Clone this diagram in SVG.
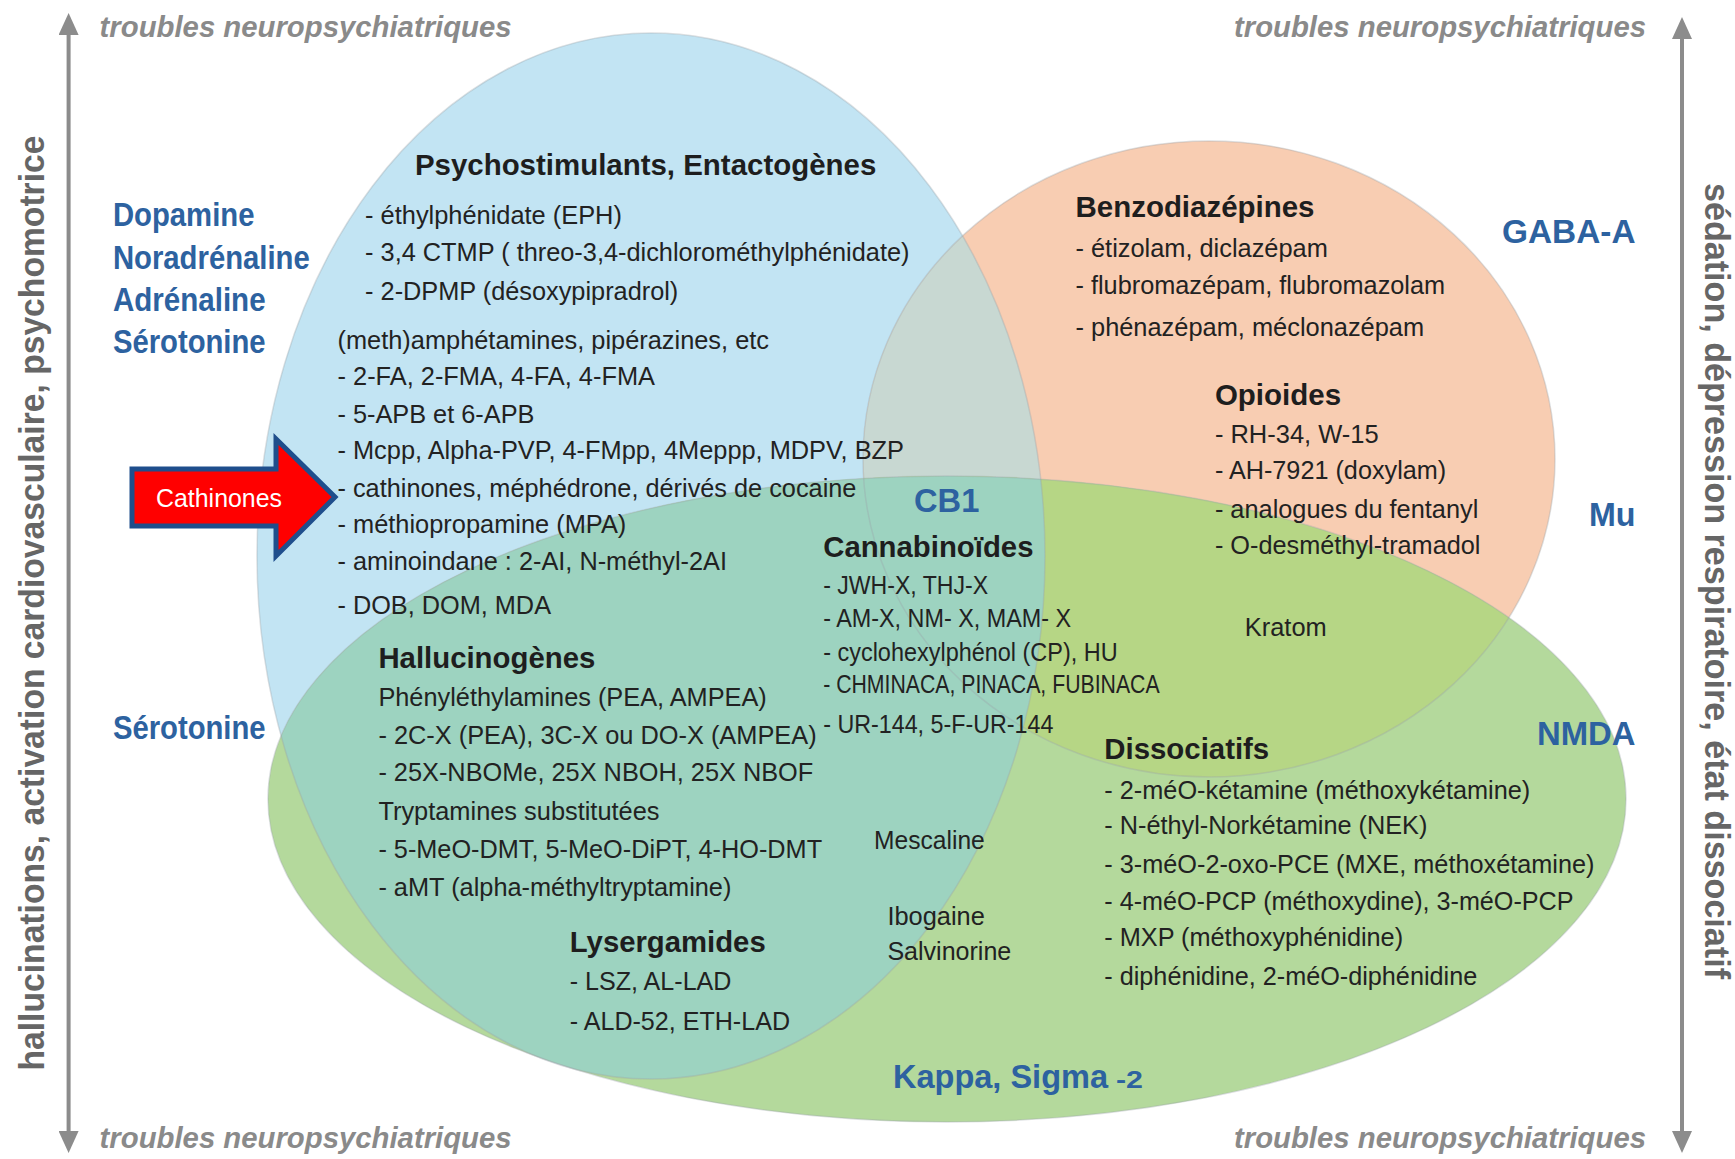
<svg xmlns="http://www.w3.org/2000/svg" width="1735" height="1159" viewBox="0 0 1735 1159">
<defs>
<style>
text{font-family:"Liberation Sans",Arial,sans-serif}
.rc{font-size:34px;font-weight:bold;fill:#2d62a0}
.hd{font-size:30px;font-weight:bold;fill:#1e1e1e}
.it{font-size:26px;fill:#222}
.tr{font-size:30px;font-weight:bold;font-style:italic;fill:#8a8a8a}
.ax{font-size:35px;font-weight:bold;fill:#666}
.edge{fill:none;stroke:#9aa4a8;stroke-opacity:0.35;stroke-width:1.5}
</style>
<ellipse id="eb" cx="651" cy="556" rx="394" ry="523"/>
<ellipse id="eo" cx="1209" cy="459" rx="346" ry="318"/>
<ellipse id="eg" cx="947" cy="799" rx="679" ry="323"/>
<clipPath id="cb"><use href="#eb"/></clipPath>
<clipPath id="co"><use href="#eo"/></clipPath>
<marker id="ah" markerUnits="userSpaceOnUse" markerWidth="22" markerHeight="20" refX="0" refY="10" orient="auto-start-reverse">
<path d="M0,0 L22,10 L0,20 z" fill="#8c8c8c"/>
</marker>
</defs>
<rect width="1735" height="1159" fill="#ffffff"/>

<g id="sets">
<use href="#eb" fill="#c2e4f3"/>
<use href="#eo" fill="#f8cdb2"/>
<use href="#eo" fill="#c8d8d2" clip-path="url(#cb)"/>
<use href="#eg" fill="#b4d99c"/>
<use href="#eg" fill="#b6d685" clip-path="url(#co)"/>
<use href="#eg" fill="#9dd3c0" clip-path="url(#cb)"/>
<use href="#eb" class="edge"/>
<use href="#eo" class="edge"/>
<use href="#eg" class="edge"/>
</g>

<g id="connectors">
<line x1="68.6" y1="35" x2="68.6" y2="1131" stroke="#8c8c8c" stroke-width="4" marker-start="url(#ah)" marker-end="url(#ah)"/>
<line x1="1682" y1="39" x2="1682" y2="1131" stroke="#8c8c8c" stroke-width="4" marker-start="url(#ah)" marker-end="url(#ah)"/>
</g>

<g id="axis-labels">
<text class="tr" x="99.6" y="37" textLength="412" lengthAdjust="spacingAndGlyphs">troubles neuropsychiatriques</text>
<text class="tr" x="1234" y="37" textLength="412" lengthAdjust="spacingAndGlyphs">troubles neuropsychiatriques</text>
<text class="tr" x="99.6" y="1148" textLength="412" lengthAdjust="spacingAndGlyphs">troubles neuropsychiatriques</text>
<text class="tr" x="1234" y="1148" textLength="412" lengthAdjust="spacingAndGlyphs">troubles neuropsychiatriques</text>
<text class="ax" transform="translate(44,603) rotate(-90)" text-anchor="middle" textLength="935" lengthAdjust="spacingAndGlyphs">hallucinations, activation cardiovasculaire, psychomotrice</text>
<text class="ax" transform="translate(1705,581) rotate(90)" text-anchor="middle" textLength="796" lengthAdjust="spacingAndGlyphs">sédation, dépression respiratoire, état dissociatif</text>
</g>

<g id="receptors">
<text class="rc" x="112.9" y="226" textLength="141.6" lengthAdjust="spacingAndGlyphs">Dopamine</text>
<text class="rc" x="112.9" y="268.9" textLength="196.9" lengthAdjust="spacingAndGlyphs">Noradrénaline</text>
<text class="rc" x="112.9" y="311" textLength="152.7" lengthAdjust="spacingAndGlyphs">Adrénaline</text>
<text class="rc" x="112.9" y="353" textLength="152.7" lengthAdjust="spacingAndGlyphs">Sérotonine</text>
<text class="rc" x="112.9" y="739" textLength="152.7" lengthAdjust="spacingAndGlyphs">Sérotonine</text>
<text class="rc" x="1502" y="243.4" textLength="133.5" lengthAdjust="spacingAndGlyphs">GABA-A</text>
<text class="rc" x="1589" y="525.6" textLength="46.5" lengthAdjust="spacingAndGlyphs">Mu</text>
<text class="rc" x="1537" y="745" textLength="98.5" lengthAdjust="spacingAndGlyphs">NMDA</text>
<text class="rc" x="914" y="512.3" textLength="65.3" lengthAdjust="spacingAndGlyphs">CB1</text>
<text class="rc" x="893" y="1088" textLength="215" lengthAdjust="spacingAndGlyphs">Kappa, Sigma</text>
<text class="rc" x="1116" y="1088" style="font-size:23px" textLength="27" lengthAdjust="spacingAndGlyphs">-2</text>
</g>

<g id="psychostimulants">
<text class="hd" x="414.9" y="174.5" textLength="461.4" lengthAdjust="spacingAndGlyphs">Psychostimulants, Entactogènes</text>
<text class="it" x="365.1" y="224" textLength="256.8" lengthAdjust="spacingAndGlyphs">- éthylphénidate (EPH)</text>
<text class="it" x="365.1" y="261" textLength="544.4" lengthAdjust="spacingAndGlyphs">- 3,4 CTMP ( threo-3,4-dichlorométhylphénidate)</text>
<text class="it" x="365.1" y="299.5" textLength="313.2" lengthAdjust="spacingAndGlyphs">- 2-DPMP (désoxypipradrol)</text>
<text class="it" x="337.5" y="348.5" textLength="431.5" lengthAdjust="spacingAndGlyphs">(meth)amphétamines, pipérazines, etc</text>
<text class="it" x="337.5" y="385.1" textLength="317.5" lengthAdjust="spacingAndGlyphs">- 2-FA, 2-FMA, 4-FA, 4-FMA</text>
<text class="it" x="337.5" y="422.7" textLength="196.9" lengthAdjust="spacingAndGlyphs">- 5-APB et 6-APB</text>
<text class="it" x="337.5" y="459.2" textLength="566.5" lengthAdjust="spacingAndGlyphs">- Mcpp, Alpha-PVP, 4-FMpp, 4Meppp, MDPV, BZP</text>
<text class="it" x="337.5" y="496.8" textLength="518.9" lengthAdjust="spacingAndGlyphs">- cathinones, méphédrone, dérivés de cocaine</text>
<text class="it" x="337.5" y="533.3" textLength="288.8" lengthAdjust="spacingAndGlyphs">- méthiopropamine (MPA)</text>
<text class="it" x="337.5" y="569.8" textLength="389.5" lengthAdjust="spacingAndGlyphs">- aminoindane : 2-AI, N-méthyl-2AI</text>
<text class="it" x="337.5" y="614.1" textLength="213.5" lengthAdjust="spacingAndGlyphs">- DOB, DOM, MDA</text>
</g>

<g id="benzodiazepines">
<text class="hd" x="1075.5" y="216.9" textLength="239" lengthAdjust="spacingAndGlyphs">Benzodiazépines</text>
<text class="it" x="1075.5" y="256.7" textLength="252.3" lengthAdjust="spacingAndGlyphs">- étizolam, diclazépam</text>
<text class="it" x="1075.5" y="294.3" textLength="369.6" lengthAdjust="spacingAndGlyphs">- flubromazépam, flubromazolam</text>
<text class="it" x="1075.5" y="336.4" textLength="348.6" lengthAdjust="spacingAndGlyphs">- phénazépam, méclonazépam</text>
</g>

<g id="opioides">
<text class="hd" x="1214.9" y="405" textLength="126.2" lengthAdjust="spacingAndGlyphs">Opioides</text>
<text class="it" x="1214.9" y="442.6" textLength="163.8" lengthAdjust="spacingAndGlyphs">- RH-34, W-15</text>
<text class="it" x="1214.9" y="479.1" textLength="231.3" lengthAdjust="spacingAndGlyphs">- AH-7921 (doxylam)</text>
<text class="it" x="1214.9" y="517.8" textLength="263.4" lengthAdjust="spacingAndGlyphs">- analogues du fentanyl</text>
<text class="it" x="1214.9" y="554.4" textLength="265.6" lengthAdjust="spacingAndGlyphs">- O-desméthyl-tramadol</text>
<text class="it" x="1244.8" y="636.2" textLength="81.9" lengthAdjust="spacingAndGlyphs">Kratom</text>
</g>

<g id="cannabinoides">
<text class="hd" x="823.2" y="556.6" textLength="210.3" lengthAdjust="spacingAndGlyphs">Cannabinoïdes</text>
<text class="it" x="823.2" y="594.2" textLength="164.9" lengthAdjust="spacingAndGlyphs">- JWH-X, THJ-X</text>
<text class="it" x="823.2" y="627.4" textLength="247.9" lengthAdjust="spacingAndGlyphs">- AM-X, NM- X, MAM- X</text>
<text class="it" x="823.2" y="660.6" textLength="294.4" lengthAdjust="spacingAndGlyphs">- cyclohexylphénol (CP), HU</text>
<text class="it" x="823.2" y="692.7" textLength="336.4" lengthAdjust="spacingAndGlyphs">- CHMINACA, PINACA, FUBINACA</text>
<text class="it" x="823.2" y="732.5" textLength="230.2" lengthAdjust="spacingAndGlyphs">- UR-144, 5-F-UR-144</text>
</g>

<g id="hallucinogenes">
<text class="hd" x="378.4" y="668.3" textLength="216.9" lengthAdjust="spacingAndGlyphs">Hallucinogènes</text>
<text class="it" x="378.4" y="705.9" textLength="388.4" lengthAdjust="spacingAndGlyphs">Phényléthylamines (PEA, AMPEA)</text>
<text class="it" x="378.4" y="743.6" textLength="438.2" lengthAdjust="spacingAndGlyphs">- 2C-X (PEA), 3C-X ou DO-X (AMPEA)</text>
<text class="it" x="378.4" y="781.2" textLength="434.9" lengthAdjust="spacingAndGlyphs">- 25X-NBOMe, 25X NBOH, 25X NBOF</text>
<text class="it" x="378.4" y="819.9" textLength="281.1" lengthAdjust="spacingAndGlyphs">Tryptamines substitutées</text>
<text class="it" x="378.4" y="857.5" textLength="443.7" lengthAdjust="spacingAndGlyphs">- 5-MeO-DMT, 5-MeO-DiPT, 4-HO-DMT</text>
<text class="it" x="378.4" y="896.3" textLength="353" lengthAdjust="spacingAndGlyphs">- aMT (alpha-méthyltryptamine)</text>
</g>

<g id="lysergamides">
<text class="hd" x="569.8" y="951.6" textLength="195.9" lengthAdjust="spacingAndGlyphs">Lysergamides</text>
<text class="it" x="569.8" y="990.3" textLength="161.6" lengthAdjust="spacingAndGlyphs">- LSZ, AL-LAD</text>
<text class="it" x="569.8" y="1030.2" textLength="220.2" lengthAdjust="spacingAndGlyphs">- ALD-52, ETH-LAD</text>
</g>

<g id="plantes">
<text class="it" x="874.1" y="848.7" textLength="110.7" lengthAdjust="spacingAndGlyphs">Mescaline</text>
<text class="it" x="887.4" y="925" textLength="97.4" lengthAdjust="spacingAndGlyphs">Ibogaine</text>
<text class="it" x="887.4" y="960.4" textLength="123.9" lengthAdjust="spacingAndGlyphs">Salvinorine</text>
</g>

<g id="dissociatifs">
<text class="hd" x="1104.3" y="759.1" textLength="164.9" lengthAdjust="spacingAndGlyphs">Dissociatifs</text>
<text class="it" x="1104.3" y="798.9" textLength="426" lengthAdjust="spacingAndGlyphs">- 2-méO-kétamine (méthoxykétamine)</text>
<text class="it" x="1104.3" y="834.3" textLength="323.1" lengthAdjust="spacingAndGlyphs">- N-éthyl-Norkétamine (NEK)</text>
<text class="it" x="1104.3" y="873" textLength="490.2" lengthAdjust="spacingAndGlyphs">- 3-méO-2-oxo-PCE (MXE, méthoxétamine)</text>
<text class="it" x="1104.3" y="909.5" textLength="469.2" lengthAdjust="spacingAndGlyphs">- 4-méO-PCP (méthoxydine), 3-méO-PCP</text>
<text class="it" x="1104.3" y="946.1" textLength="298.8" lengthAdjust="spacingAndGlyphs">- MXP (méthoxyphénidine)</text>
<text class="it" x="1104.3" y="984.8" textLength="372.9" lengthAdjust="spacingAndGlyphs">- diphénidine, 2-méO-diphénidine</text>
</g>

<g id="cathinones-arrow">
<polygon points="132,469 276,469 276,439 335,497 276,556 276,526 132,526" fill="#ff0000" stroke="#1f4e8c" stroke-width="5" stroke-linejoin="miter"/>
<text x="156" y="507" style="font-size:25px" fill="#ffffff" textLength="126" lengthAdjust="spacingAndGlyphs">Cathinones</text>
</g>
</svg>
